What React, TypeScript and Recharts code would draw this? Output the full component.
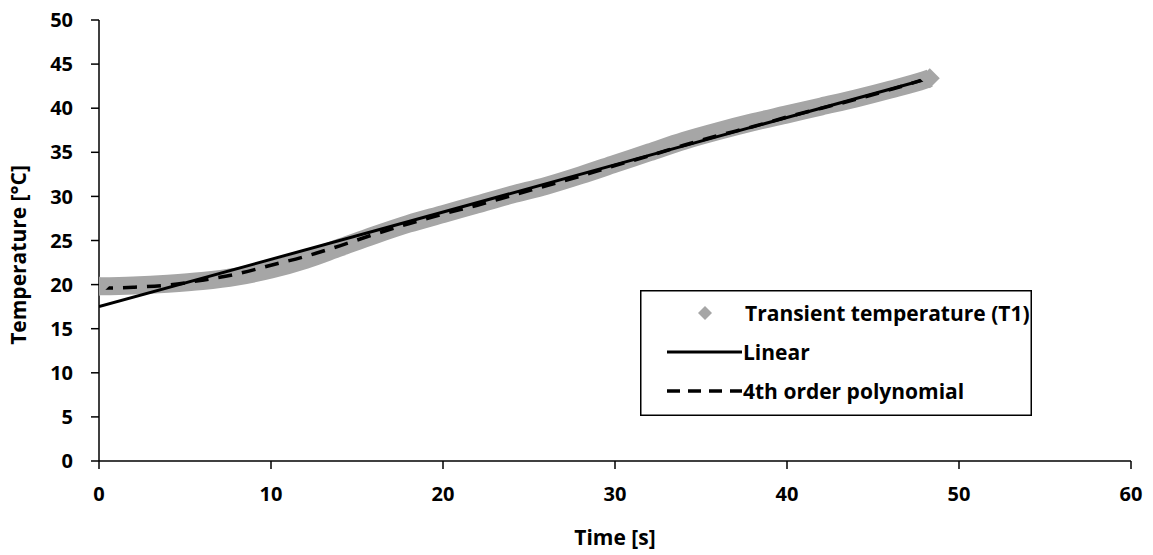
import React from 'react';
import { LineChart, Line, XAxis, YAxis, Legend } from 'recharts';

const xTicks = [0, 10, 20, 30, 40, 50, 60];
const yTicks = [0, 5, 10, 15, 20, 25, 30, 35, 40, 45, 50];

const seriesNames = ['Transient temperature (T1)', 'Linear', '4th order polynomial'];

const bandTime = [0, 2, 4, 6, 8, 10, 12, 14, 16, 18, 20, 22, 24, 26, 28, 30, 32, 34, 36, 38, 40, 42, 44, 46, 48, 48.3];
const bandTemp = [19.8, 19.9, 20.1, 20.4, 20.9, 21.7, 22.8, 24.2, 25.6, 26.9, 28.0, 29.1, 30.2, 31.2, 32.4, 33.7, 35.0, 36.3, 37.4, 38.4, 39.3, 40.2, 41.1, 42.1, 43.2, 43.4];

const linearTime = [0, 48.3];
const linearTemp = [17.5, 43.4];

const polyTime = [0, 2, 4, 6, 8, 10, 12, 14, 16, 18, 20, 22, 24, 26, 28, 30, 32, 34, 36, 38, 40, 42, 44, 46, 48, 48.3];
const polyTemp = [19.6, 19.7, 19.95, 20.5, 21.2, 22.2, 23.2, 24.4, 25.7, 26.9, 28.0, 29.0, 30.1, 31.2, 32.3, 33.5, 34.6, 35.8, 36.9, 37.9, 39.0, 40.0, 41.0, 42.1, 43.3, 43.5];

const bandData = bandTime.map((t, i) => ({ t, v: bandTemp[i] }));
const linearData = linearTime.map((t, i) => ({ t, v: linearTemp[i] }));
const polyData = polyTime.map((t, i) => ({ t, v: polyTemp[i] }));

const GRAY = '#a6a6a6';
const FONT = '"Open Sans", sans-serif';

const EndDiamond = (props: any) => {
  const { cx, cy, index } = props;
  if (index !== 0 && index !== bandData.length - 1) return <g key={`d${index}`} />;
  const r = 10;
  return (
    <polygon
      key={`d${index}`}
      points={`${cx - r},${cy} ${cx},${cy - r} ${cx + r},${cy} ${cx},${cy + r}`}
      fill={GRAY}
      stroke="none"
    />
  );
};

const LegendBox = () => (
  <svg width={392} height={126} style={{ display: 'block', fontFamily: FONT }}>
    <rect x={0.75} y={0.75} width={390.5} height={124.5} fill="#fff" stroke="#000" strokeWidth={1.5} />
    <polygon points="58,23 65,16 72,23 65,30" fill={GRAY} />
    <text x={105} y={23} dominantBaseline="central" fontSize={21} fontWeight="bold" fill="#000">{seriesNames[0]}</text>
    <line x1={27} y1={62} x2={102} y2={62} stroke="#000" strokeWidth={3} />
    <text x={103} y={62} dominantBaseline="central" fontSize={21} fontWeight="bold" fill="#000">{seriesNames[1]}</text>
    <line x1={27} y1={101} x2={102} y2={101} stroke="#000" strokeWidth={3.5} strokeDasharray="13 8" />
    <text x={103} y={101} dominantBaseline="central" fontSize={21} fontWeight="bold" fill="#000">{seriesNames[2]}</text>
  </svg>
);

export default function App() {
  return (
    <div style={{ position: 'absolute', left: 0, top: 0, width: 1153, height: 555, background: '#fff' }}>
      <LineChart
        width={1153}
        height={555}
        margin={{ top: 20, right: 22, bottom: 0, left: 0 }}
        style={{ fontFamily: FONT }}
      >
        <XAxis
          dataKey="t"
          type="number"
          domain={[0, 60]}
          ticks={xTicks}
          allowDataOverflow
          height={94}
          stroke="#000"
          strokeWidth={1.5}
          tickSize={8}
          tickMargin={18}
          tick={{ fill: '#000', fontSize: 20, fontWeight: 'bold', fontFamily: FONT }}
          tickLine={{ stroke: '#000', strokeWidth: 1.5 }}
          label={() => (
            <text x={615} y={545} textAnchor="middle" fontSize={21} fontWeight="bold" fill="#000" fontFamily={FONT}>Time [s]</text>
          )}
        />
        <YAxis
          dataKey="v"
          type="number"
          domain={[0, 50]}
          ticks={yTicks}
          width={99}
          stroke="#000"
          strokeWidth={1.5}
          tickSize={8}
          tickMargin={18}
          tick={{ fill: '#000', fontSize: 20, fontWeight: 'bold', fontFamily: FONT }}
          tickLine={{ stroke: '#000', strokeWidth: 1.5 }}
          label={() => (
            <text x={26} y={255} transform="rotate(-90 26 255)" textAnchor="middle" fontSize={21} fontWeight="bold" fill="#000" fontFamily={FONT}>Temperature [°C]</text>
          )}
        />
        <Legend
          layout="horizontal"
          verticalAlign="middle"
          align="center"
          wrapperStyle={{ left: 640, top: 290, width: 392, height: 126 }}
          content={() => <LegendBox />}
        />
        <Line
          data={bandData}
          dataKey="v"
          name={seriesNames[0]}
          type="monotone"
          stroke={GRAY}
          strokeWidth={18}
          strokeLinecap="butt"
          dot={EndDiamond}
          activeDot={false}
          isAnimationActive={false}
        />
        <Line
          data={linearData}
          dataKey="v"
          name={seriesNames[1]}
          type="linear"
          stroke="#000"
          strokeWidth={3}
          dot={false}
          activeDot={false}
          isAnimationActive={false}
        />
        <Line
          data={polyData}
          dataKey="v"
          name={seriesNames[2]}
          type="monotone"
          stroke="#000"
          strokeWidth={3.5}
          strokeDasharray="14 10"
          dot={false}
          activeDot={false}
          isAnimationActive={false}
        />
      </LineChart>
    </div>
  );
}
